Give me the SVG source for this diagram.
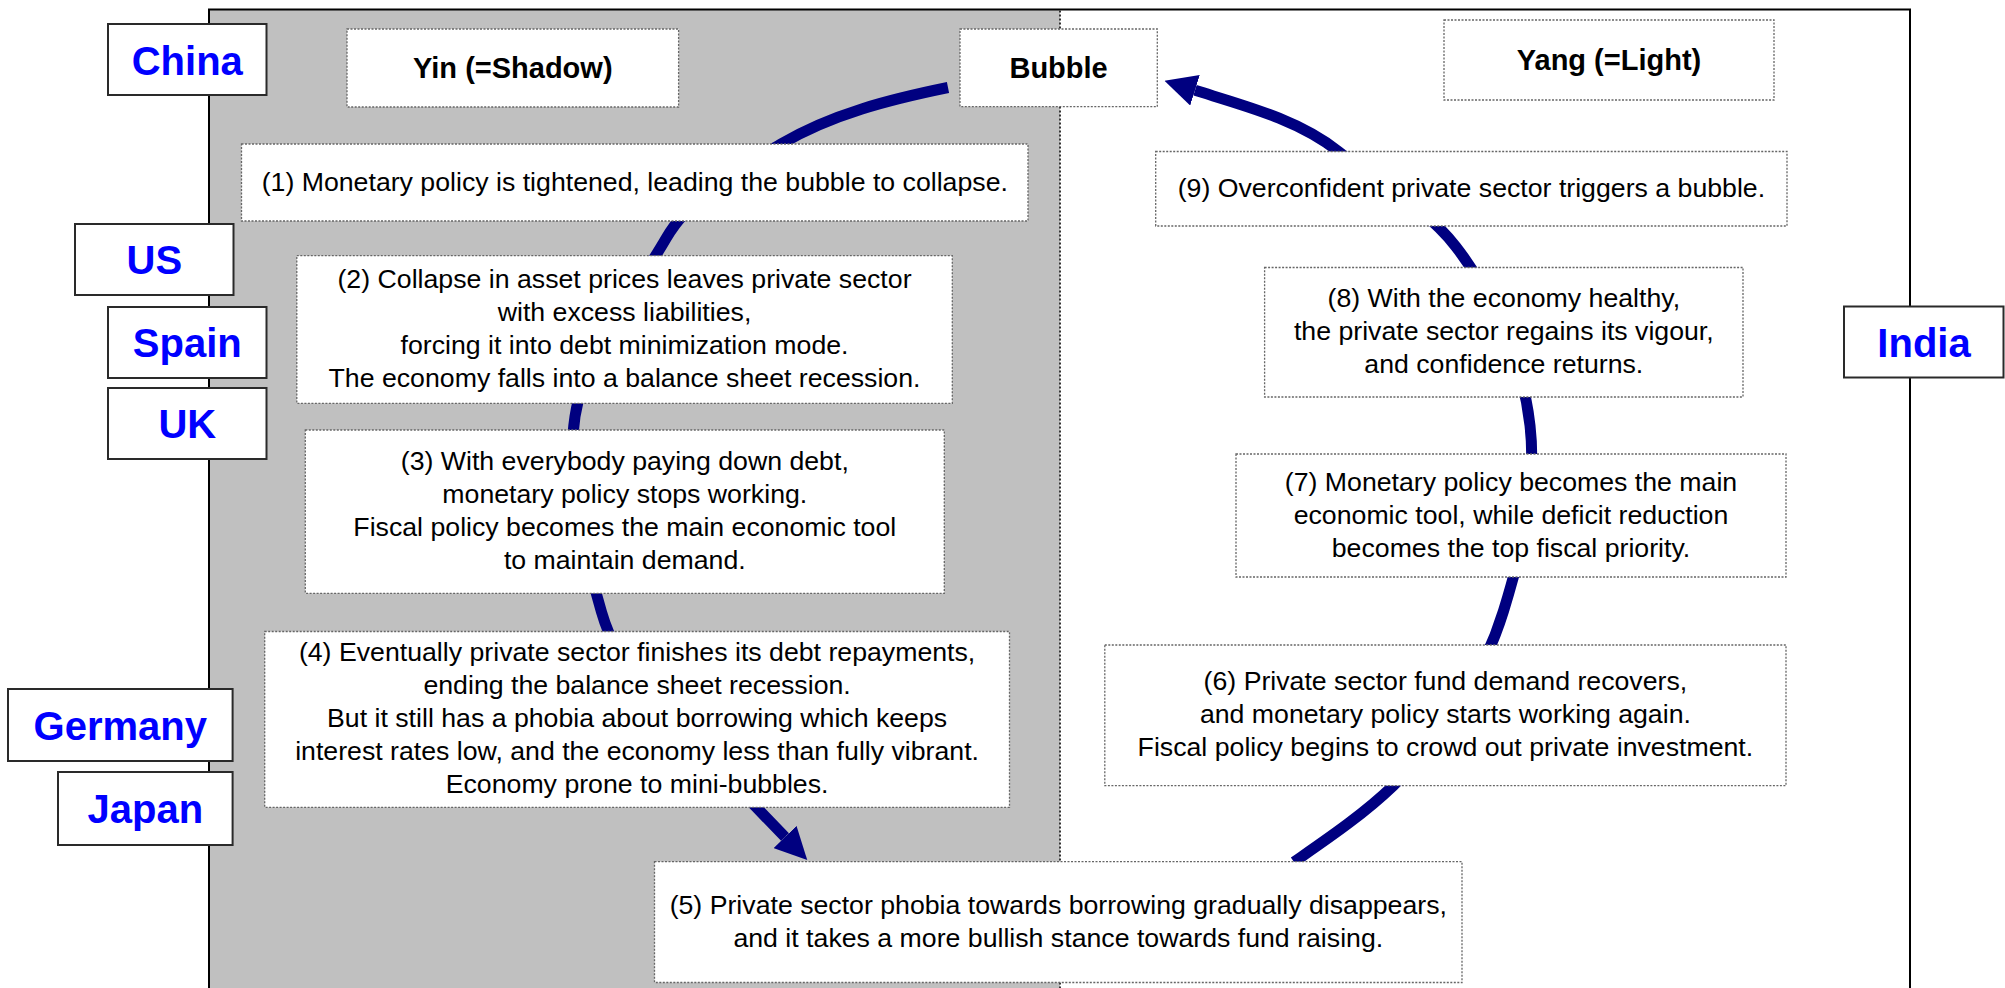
<svg xmlns="http://www.w3.org/2000/svg" width="2005" height="988" viewBox="0 0 2005 988">
<style>
.frame{fill:none;stroke:#000;stroke-width:2}
.divider{fill:none;stroke:#333;stroke-width:2;stroke-dasharray:2 2}
.tbox{fill:#fff;stroke:#666;stroke-width:1.3;stroke-dasharray:2 1.5}
.cbox{fill:#fff;stroke:#2a2a2a;stroke-width:2}
.t{font-family:"Liberation Sans",Arial,sans-serif;font-size:26.7px;fill:#000;text-anchor:middle}
.tt{font-family:"Liberation Sans",Arial,sans-serif;font-size:29px;font-weight:bold;fill:#000;text-anchor:middle}
.ct{font-family:"Liberation Sans",Arial,sans-serif;font-size:40px;font-weight:bold;fill:#0000FF;text-anchor:middle}
.arc{fill:none;stroke:#000080;stroke-width:11;marker-end:url(#head)}
</style>
<defs>
<marker id="head" markerUnits="userSpaceOnUse" viewBox="0 -16 32 32" refX="0" refY="0" markerWidth="32" markerHeight="32" orient="auto">
<path d="M0,-16 L32,0 L0,16 Z" fill="#000080"/>
</marker>
</defs>
<g id="background">
<rect x="209" y="9.5" width="851" height="979" fill="#C0C0C0"/>
<path class="frame" d="M209,988 V9.5 H1910 V988"/>
<line class="divider" x1="1060" y1="10.5" x2="1060" y2="988"/>
</g>
<g id="connectors">
<path class="arc" d="M948,87.5 C890.4,99.3 831.6,114 781,144 C738.3,169.3 690.8,195.5 666,238.5 C632.7,296.2 585,350.6 575,416.5 C565.1,481.6 583.4,548.7 601.5,612 C624.3,691.7 698.4,747.4 756,807 L785,837"/>
<path class="arc" d="M1294,862 C1328.1,838.3 1363,814.7 1393,786 C1442.7,738.4 1483.1,676.9 1503.5,611 C1521.9,551.3 1537.1,487.6 1530,425.5 C1522.7,361.4 1495.3,297.8 1456,246.8 C1425.3,207 1377.8,182.7 1338.5,151.5 C1297.9,119.3 1244.6,105.8 1195,90.3"/>
</g>
<g id="yin">
<rect class="tbox" x="347" y="29" width="331.6" height="78"/>
<text class="tt" x="512.8" y="78.4">Yin (=Shadow)</text>
</g>
<g id="bubble">
<rect class="tbox" x="960" y="29" width="197.3" height="77.7"/>
<text class="tt" x="1058.6" y="78.3">Bubble</text>
</g>
<g id="yang">
<rect class="tbox" x="1444" y="20" width="330" height="80"/>
<text class="tt" x="1609" y="70.4">Yang (=Light)</text>
</g>
<g id="step1">
<rect class="tbox" x="241.5" y="144" width="786.5" height="77"/>
<text class="t" x="634.8" y="191">(1) Monetary policy is tightened, leading the bubble to collapse.</text>
</g>
<g id="step2">
<rect class="tbox" x="296.8" y="255.7" width="655.5" height="147.6"/>
<text class="t" x="624.5" y="288">(2) Collapse in asset prices leaves private sector</text>
<text class="t" x="624.5" y="321">with excess liabilities,</text>
<text class="t" x="624.5" y="354">forcing it into debt minimization mode.</text>
<text class="t" x="624.5" y="387">The economy falls into a balance sheet recession.</text>
</g>
<g id="step3">
<rect class="tbox" x="305.3" y="430" width="639" height="163.3"/>
<text class="t" x="624.8" y="470.2">(3) With everybody paying down debt,</text>
<text class="t" x="624.8" y="503.2">monetary policy stops working.</text>
<text class="t" x="624.8" y="536.2">Fiscal policy becomes the main economic tool</text>
<text class="t" x="624.8" y="569.2">to maintain demand.</text>
</g>
<g id="step4">
<rect class="tbox" x="264.7" y="631.5" width="744.8" height="175.8"/>
<text class="t" x="637.1" y="661.4">(4) Eventually private sector finishes its debt repayments,</text>
<text class="t" x="637.1" y="694.4">ending the balance sheet recession.</text>
<text class="t" x="637.1" y="727.4">But it still has a phobia about borrowing which keeps</text>
<text class="t" x="637.1" y="760.4">interest rates low, and the economy less than fully vibrant.</text>
<text class="t" x="637.1" y="793.4">Economy prone to mini-bubbles.</text>
</g>
<g id="step5">
<rect class="tbox" x="654.5" y="861.7" width="807.5" height="120.8"/>
<text class="t" x="1058.3" y="913.6">(5) Private sector phobia towards borrowing gradually disappears,</text>
<text class="t" x="1058.3" y="946.6">and it takes a more bullish stance towards fund raising.</text>
</g>
<g id="step6">
<rect class="tbox" x="1104.8" y="645" width="681.2" height="140.7"/>
<text class="t" x="1445.4" y="690.4">(6) Private sector fund demand recovers,</text>
<text class="t" x="1445.4" y="723.4">and monetary policy starts working again.</text>
<text class="t" x="1445.4" y="756.4">Fiscal policy begins to crowd out private investment.</text>
</g>
<g id="step7">
<rect class="tbox" x="1236" y="454" width="550" height="123"/>
<text class="t" x="1511" y="490.5">(7) Monetary policy becomes the main</text>
<text class="t" x="1511" y="523.5">economic tool, while deficit reduction</text>
<text class="t" x="1511" y="556.5">becomes the top fiscal priority.</text>
</g>
<g id="step8">
<rect class="tbox" x="1264.6" y="267.5" width="478.4" height="129.5"/>
<text class="t" x="1503.8" y="307.3">(8) With the economy healthy,</text>
<text class="t" x="1503.8" y="340.3">the private sector regains its vigour,</text>
<text class="t" x="1503.8" y="373.3">and confidence returns.</text>
</g>
<g id="step9">
<rect class="tbox" x="1155.7" y="151.5" width="631.3" height="74.5"/>
<text class="t" x="1471.4" y="196.8">(9) Overconfident private sector triggers a bubble.</text>
</g>
<g id="china">
<rect class="cbox" x="108" y="24" width="158.5" height="71"/>
<text class="ct" x="187.3" y="74.5">China</text>
</g>
<g id="us">
<rect class="cbox" x="75" y="224" width="158.5" height="71"/>
<text class="ct" x="154.3" y="274">US</text>
</g>
<g id="spain">
<rect class="cbox" x="108" y="307" width="158.5" height="71"/>
<text class="ct" x="187.3" y="357">Spain</text>
</g>
<g id="uk">
<rect class="cbox" x="108" y="388" width="158.5" height="71"/>
<text class="ct" x="187.3" y="438">UK</text>
</g>
<g id="germany">
<rect class="cbox" x="8" y="689" width="224.6" height="72"/>
<text class="ct" x="120.3" y="739.5">Germany</text>
</g>
<g id="japan">
<rect class="cbox" x="58" y="772" width="174.6" height="73"/>
<text class="ct" x="145.3" y="823">Japan</text>
</g>
<g id="india">
<rect class="cbox" x="1844" y="306.5" width="159.5" height="71"/>
<text class="ct" x="1924" y="356.5">India</text>
</g>
</svg>
